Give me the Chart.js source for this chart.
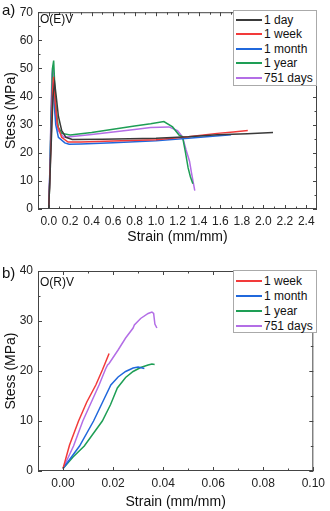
<!DOCTYPE html>
<html>
<head>
<meta charset="utf-8">
<script src="https://cdn.jsdelivr.net/npm/chart.js@4"></script>
<style>
body{margin:0;background:#fff;font-family:"Liberation Sans",Arial,sans-serif;}
#wrap{position:relative;width:330px;height:511px;overflow:hidden;}
canvas{position:absolute;left:0;}
#chartA{top:0;}
#chartB{top:255px;}
.lbl{position:absolute;color:#111;white-space:nowrap;line-height:1;}
.legend{position:absolute;background:#fff;border:1px solid #aaa;box-sizing:border-box;}
.item{position:absolute;left:0;height:14px;font-size:12px;color:#111;line-height:14px;white-space:nowrap;}
.item span.ln{position:absolute;left:2px;top:6px;width:26px;height:2px;}
.item span.tx{position:absolute;left:30px;top:0;}
</style>
</head>
<body>
<div id="wrap">
  <canvas id="chartA" width="330" height="255"></canvas>
  <canvas id="chartB" width="330" height="256"></canvas>
  <div class="lbl" style="left:2px;top:2px;font-size:15px;">a)</div>
  <div class="lbl" style="left:40px;top:13px;font-size:12px;">O(E)V</div>
  <div class="lbl" style="left:2px;top:265px;font-size:15px;">b)</div>
  <div class="lbl" style="left:40px;top:276px;font-size:12px;">O(R)V</div>
  <div class="legend" id="legA" style="left:233px;top:10px;width:84px;height:76px;"></div>
  <div class="legend" id="legB" style="left:233px;top:270px;width:84px;height:63px;"></div>
</div>
<script>
// ---- a) O(E)V ----
const aNames = ["1 day", "1 week", "1 month", "1 year", "751 days"];
const aColors = ["#3a3a3a", "#f23a3a", "#2068dc", "#1e9e55", "#b36ee6"];

const dayStrain = [0, 0.02, 0.04, 0.055, 0.07, 0.09, 0.12, 0.16, 0.22, 0.5, 1.0, 1.3, 1.57, 1.85, 2.09];
const dayStress = [0, 20, 40, 45, 40, 33, 28, 25.5, 24.7, 24.8, 25.2, 25.7, 26.4, 26.8, 27.2];

const weekStrain = [0, 0.02, 0.035, 0.045, 0.06, 0.08, 0.12, 0.18, 0.3, 0.6, 1.0, 1.3, 1.57, 1.72, 1.855];
const weekStress = [0, 22, 42, 47, 38, 30, 25.5, 23.8, 23.8, 24.2, 24.6, 25.7, 26.9, 27.4, 27.9];

const monthStrain = [0, 0.015, 0.03, 0.038, 0.05, 0.065, 0.09, 0.15, 0.19, 0.3, 0.6, 1.0, 1.3, 1.5, 1.7];
const monthStress = [0, 20, 40, 45, 38, 30, 25.5, 23.5, 23.0, 23.1, 23.6, 24.3, 25.2, 25.8, 26.4];

const yearStrain = [0, 0.01, 0.02, 0.035, 0.046, 0.055, 0.07, 0.09, 0.123, 0.2, 0.4, 0.6, 0.8, 0.95, 1.073, 1.154, 1.215, 1.247, 1.275, 1.299, 1.32, 1.343];
const yearStress = [0, 10, 30, 50, 52.8, 45, 35, 29, 26.9, 26.3, 27.2, 28.4, 29.5, 30.3, 31.1, 29.2, 26.3, 25.7, 20, 14.6, 11.5, 9];

const d751Strain = [0, 0.01, 0.02, 0.03, 0.04, 0.05, 0.065, 0.085, 0.14, 0.2, 0.4, 0.6, 0.8, 0.95, 1.12, 1.2, 1.247, 1.28, 1.312, 1.33, 1.361];
const d751Stress = [0, 12, 32, 48, 51, 44, 33, 28, 25.5, 25.7, 26.5, 27.4, 28.3, 29.0, 29.2, 27.9, 25.7, 21, 17, 12.9, 6.5];

const aXTicks = [0, 0.2, 0.4, 0.6, 0.8, 1.0, 1.2, 1.4, 1.6, 1.8, 2.0, 2.2, 2.4];
const aYTicks = [0, 10, 20, 30, 40, 50, 60, 70];

// ---- b) O(R)V ----
const bNames = ["1 week", "1 month", "1 year", "751 days"];
const bColors = ["#f23a3a", "#2068dc", "#1e9e55", "#b36ee6"];

const bWeekStrain = [0, 0.0026, 0.0062, 0.0095, 0.0131, 0.0158, 0.0184];
const bWeekStress = [0.5, 5.2, 10, 13.8, 17.2, 20.3, 23.5];

const bMonthStrain = [0, 0.0066, 0.0122, 0.0165, 0.0191, 0.022, 0.025, 0.028, 0.030, 0.0325];
const bMonthStress = [0.5, 5, 10, 14.5, 17.2, 18.8, 19.9, 20.6, 20.8, 20.5];

const bYearStrain = [0, 0.004, 0.0085, 0.0157, 0.019, 0.0217, 0.025, 0.028, 0.031, 0.034, 0.0355, 0.0366];
const bYearStress = [0.5, 2.8, 5, 10, 13.3, 16.6, 18.7, 19.9, 20.7, 21.2, 21.4, 21.3];

const b751Strain = [0, 0.0042, 0.0079, 0.0144, 0.017, 0.0178, 0.0184, 0.022, 0.025, 0.028, 0.0285, 0.031, 0.034, 0.0355, 0.0362, 0.0367, 0.0375];
const b751Stress = [0.5, 5, 10, 17.2, 20.4, 21.2, 21.5, 24.2, 26.6, 28.6, 29.2, 30.5, 31.5, 31.8, 31.5, 29.4, 28.6];

const bXTicks = [0, 0.02, 0.04, 0.06, 0.08, 0.10];
const bYTicks = [0, 10, 20, 30, 40];

function pts(xs, ys){
    return xs.map((x, i) => ({x: x, y: ys[i]}));
}

function series(names, colors, pairs){
    return pairs.map((p, i) => ({
        label: names[i],
        data: pts(p[0], p[1]),
        borderColor: colors[i],
        borderWidth: 1.5,
        pointRadius: 0,
        showLine: true,
        tension: 0
    }));
}

// frame + inward ticks on all four sides
const frameTicks = {
    id: 'frameTicks',
    afterDatasetsDraw(chart, args, opts){
        const {ctx, chartArea: a, scales: {x, y}} = chart;
        ctx.save();
        ctx.strokeStyle = '#444';
        ctx.lineWidth = 1;
        ctx.strokeRect(a.left + 0.5, a.top + 0.5, a.right - a.left - 1, a.bottom - a.top - 1);
        ctx.beginPath();
        const xs = [];
        opts.xMajor.forEach((v, i) => {
            xs.push([v, 4]);
            if(i < opts.xMajor.length - 1) xs.push([(v + opts.xMajor[i + 1]) / 2, 2.5]);
        });
        const ys = [];
        opts.yMajor.forEach((v, i) => {
            ys.push([v, 4]);
            if(i < opts.yMajor.length - 1) ys.push([(v + opts.yMajor[i + 1]) / 2, 2.5]);
        });
        xs.forEach(([v, len]) => {
            const px = Math.round(x.getPixelForValue(v)) + 0.5;
            ctx.moveTo(px, a.bottom); ctx.lineTo(px, a.bottom - len);
            ctx.moveTo(px, a.top); ctx.lineTo(px, a.top + len);
        });
        ys.forEach(([v, len]) => {
            const py = Math.round(y.getPixelForValue(v)) + 0.5;
            ctx.moveTo(a.left, py); ctx.lineTo(a.left + len, py);
            ctx.moveTo(a.right, py); ctx.lineTo(a.right - len, py);
        });
        ctx.stroke();
        ctx.restore();
    }
};

function makeOptions(c){
    return {
        responsive: false,
        animation: false,
        layout: {padding: {top: c.padTop, right: 13, left: 0, bottom: 0}},
        plugins: {
            legend: {display: false},
            tooltip: {enabled: false},
            frameTicks: {xMajor: c.xTicks, yMajor: c.yTicks}
        },
        scales: {
            x: {
                type: 'linear', min: c.xMin, max: c.xMax,
                afterBuildTicks: s => { s.ticks = c.xTicks.map(v => ({value: v})); },
                afterFit: s => { s.height = c.xAxisH; },
                grid: {display: false, drawTicks: false}, border: {display: false},
                ticks: {
                    padding: 5, color: '#222', maxRotation: 0, autoSkip: false,
                    font: {family: 'Liberation Sans', size: 12},
                    callback: v => Number(v).toFixed(c.xDigits)
                },
                title: {
                    display: true, text: 'Strain (mm/mm)', color: '#111',
                    font: {family: 'Liberation Sans', size: 14},
                    padding: {top: 0, bottom: c.titlePad}
                }
            },
            y: {
                type: 'linear', min: 0, max: c.yMax,
                afterBuildTicks: s => { s.ticks = c.yTicks.map(v => ({value: v})); },
                afterFit: s => { s.width = 38; },
                grid: {display: false, drawTicks: false}, border: {display: false},
                ticks: {
                    padding: 5, color: '#222',
                    font: {family: 'Liberation Sans', size: 12}
                },
                title: {
                    display: true, text: 'Stess (MPa)', color: '#111',
                    font: {family: 'Liberation Sans', size: 14},
                    padding: {top: 3, bottom: 0}
                }
            }
        }
    };
}

new Chart(document.getElementById('chartA'), {
    type: 'scatter',
    data: {datasets: series(aNames, aColors, [
        [dayStrain, dayStress], [weekStrain, weekStress], [monthStrain, monthStress],
        [yearStrain, yearStress], [d751Strain, d751Stress]
    ])},
    options: makeOptions({xMin: -0.1, xMax: 2.5, xTicks: aXTicks, xDigits: 1, yMax: 70, yTicks: aYTicks,
        padTop: 8, xAxisH: 46, titlePad: 9}),
    plugins: [frameTicks]
});

new Chart(document.getElementById('chartB'), {
    type: 'scatter',
    data: {datasets: series(bNames, bColors, [
        [bWeekStrain, bWeekStress], [bMonthStrain, bMonthStress],
        [bYearStrain, bYearStress], [b751Strain, b751Stress]
    ])},
    options: makeOptions({xMin: -0.01, xMax: 0.10, xTicks: bXTicks, xDigits: 2, yMax: 40, yTicks: bYTicks,
        padTop: 16, xAxisH: 40, titlePad: 0}),
    plugins: [frameTicks]
});

function buildLegend(id, names, colors, firstTop, step){
    const box = document.getElementById(id);
    names.forEach((n, i) => {
        const d = document.createElement('div');
        d.className = 'item';
        d.style.top = (firstTop + i * step) + 'px';
        d.innerHTML = '<span class="ln" style="background:' + colors[i] + '"></span><span class="tx">' + n + '</span>';
        box.appendChild(d);
    });
}

buildLegend('legA', aNames, aColors, 2, 14.4);
buildLegend('legB', bNames, bColors, 3, 15);
</script>
</body>
</html>
